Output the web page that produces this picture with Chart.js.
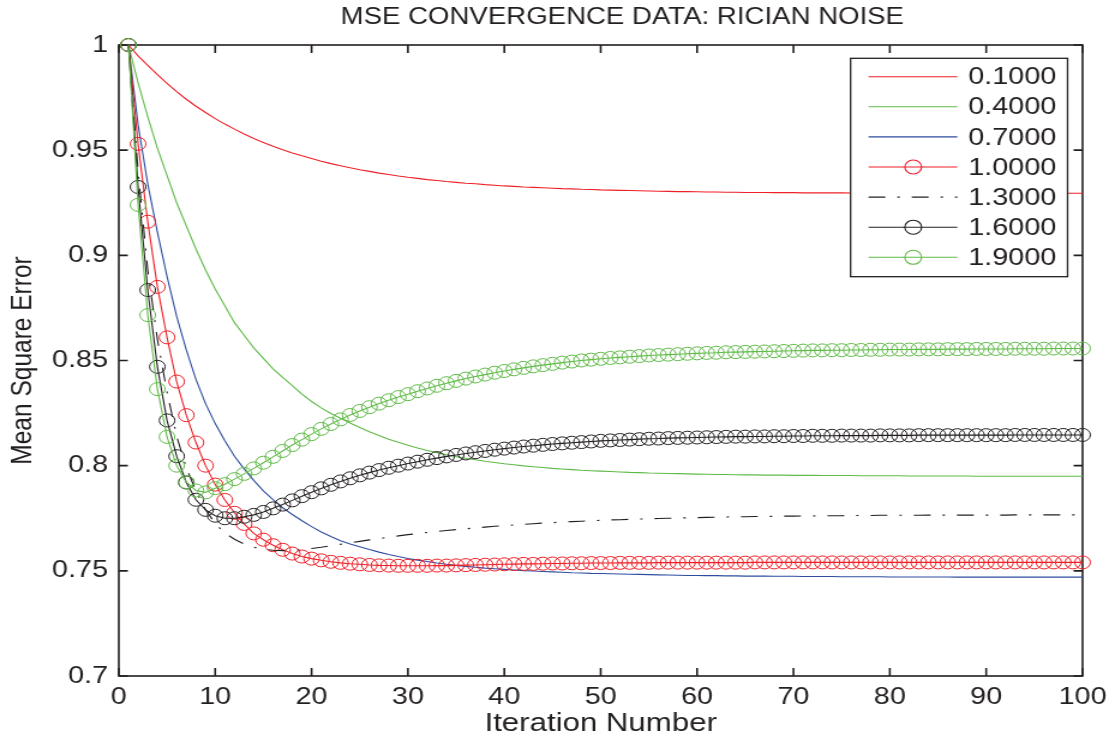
<!DOCTYPE html>
<html><head><meta charset="utf-8">
<script src="https://cdn.jsdelivr.net/npm/chart.js@4.4.1/dist/chart.umd.min.js"></script>
<style>
html,body{margin:0;padding:0;background:#fff;overflow:hidden;width:1115px;height:742px;}
#wrap{position:absolute;left:0;top:0;width:929px;height:742px;transform:scaleX(1.2002);transform-origin:0 0;}
canvas{display:block;width:929px;height:742px;}
</style></head><body>
<div id="wrap"><canvas id="c" width="929" height="742" style="width:929px;height:742px"></canvas></div>
<script>
const chartTitle = 'MSE CONVERGENCE DATA: RICIAN NOISE';
const xAxisTitle = 'Iteration Number';
const yAxisTitle = 'Mean Square Error';
const xTickLabels = ['0','10','20','30','40','50','60','70','80','90','100'];
const yTickLabels = ['0.7','0.75','0.8','0.85','0.9','0.95','1'];
const seriesNames = ['0.1000','0.4000','0.7000','1.0000','1.3000','1.6000','1.9000'];

const iterations = [1,2,3,4,5,6,7,8,9,10,11,12,13,14,15,16,17,18,19,20,
21,22,23,24,25,26,27,28,29,30,31,32,33,34,35,36,37,38,39,40,
41,42,43,44,45,46,47,48,49,50,51,52,53,54,55,56,57,58,59,60,
61,62,63,64,65,66,67,68,69,70,71,72,73,74,75,76,77,78,79,80,
81,82,83,84,85,86,87,88,89,90,91,92,93,94,95,96,97,98,99,100];

const mse01 = [1.0000,0.9948,0.9903,0.9859,0.9817,0.9778,0.9742,0.9709,0.9679,0.9650,
0.9624,0.9600,0.9577,0.9556,0.9537,0.9519,0.9502,0.9487,0.9473,0.9460,
0.9447,0.9436,0.9426,0.9416,0.9407,0.9399,0.9391,0.9384,0.9377,0.9371,
0.9366,0.9360,0.9356,0.9351,0.9347,0.9343,0.9340,0.9336,0.9333,0.9330,
0.9328,0.9325,0.9323,0.9321,0.9319,0.9317,0.9316,0.9314,0.9313,0.9311,
0.9310,0.9309,0.9308,0.9307,0.9306,0.9305,0.9304,0.9303,0.9303,0.9302,
0.9301,0.9301,0.9300,0.9300,0.9299,0.9299,0.9299,0.9298,0.9298,0.9298,
0.9297,0.9297,0.9297,0.9297,0.9297,0.9296,0.9296,0.9296,0.9296,0.9296,
0.9296,0.9296,0.9296,0.9296,0.9296,0.9295,0.9295,0.9295,0.9295,0.9295,
0.9295,0.9295,0.9295,0.9295,0.9295,0.9295,0.9295,0.9295,0.9295,0.9295];

const mse04 = [1.0000,0.9820,0.9660,0.9510,0.9380,0.9250,0.9140,0.9030,0.8930,0.8840,
0.8760,0.8680,0.8620,0.8560,0.8510,0.8460,0.8420,0.8380,0.8340,0.8305,
0.8275,0.8248,0.8225,0.8203,0.8181,0.8161,0.8143,0.8126,0.8111,0.8097,
0.8084,0.8072,0.8062,0.8052,0.8043,0.8035,0.8028,0.8021,0.8015,0.8009,
0.8004,0.7999,0.7995,0.7991,0.7987,0.7984,0.7981,0.7978,0.7976,0.7974,
0.7972,0.7970,0.7968,0.7967,0.7965,0.7964,0.7963,0.7962,0.7961,0.7960,
0.7959,0.7958,0.7958,0.7957,0.7956,0.7956,0.7955,0.7955,0.7955,0.7954,
0.7954,0.7954,0.7953,0.7953,0.7953,0.7953,0.7952,0.7952,0.7952,0.7952,
0.7952,0.7951,0.7951,0.7951,0.7951,0.7951,0.7951,0.7951,0.7950,0.7950,
0.7950,0.7950,0.7950,0.7950,0.7950,0.7950,0.7950,0.7950,0.7950,0.7950];

const mse07 = [1.0000,0.9620,0.9340,0.9110,0.8900,0.8710,0.8550,0.8410,0.8295,0.8200,
0.8118,0.8045,0.7985,0.7930,0.7880,0.7838,0.7800,0.7768,0.7738,0.7710,
0.7685,0.7663,0.7643,0.7628,0.7615,0.7601,0.7589,0.7578,0.7568,0.7559,
0.7551,0.7544,0.7537,0.7531,0.7526,0.7521,0.7517,0.7513,0.7510,0.7507,
0.7504,0.7501,0.7499,0.7497,0.7495,0.7493,0.7491,0.7490,0.7488,0.7487,
0.7486,0.7485,0.7484,0.7483,0.7482,0.7481,0.7480,0.7479,0.7478,0.7478,
0.7477,0.7477,0.7476,0.7476,0.7475,0.7475,0.7475,0.7474,0.7474,0.7474,
0.7473,0.7473,0.7473,0.7473,0.7472,0.7472,0.7472,0.7472,0.7472,0.7471,
0.7471,0.7471,0.7471,0.7471,0.7471,0.7471,0.7470,0.7470,0.7470,0.7470,
0.7470,0.7470,0.7470,0.7470,0.7470,0.7470,0.7470,0.7470,0.7470,0.7470];

const mse10 = [1.0000,0.9530,0.9160,0.8850,0.8610,0.8400,0.8240,0.8110,0.8000,0.7910,
0.7837,0.7776,0.7723,0.7678,0.7648,0.7622,0.7600,0.7582,0.7568,0.7558,
0.7550,0.7543,0.7538,0.7534,0.7531,0.7528,0.7526,0.7525,0.7524,0.7524,
0.7524,0.7524,0.7525,0.7525,0.7526,0.7527,0.7528,0.7529,0.7530,0.7531,
0.7532,0.7533,0.7533,0.7534,0.7535,0.7535,0.7536,0.7536,0.7537,0.7537,
0.7537,0.7538,0.7538,0.7538,0.7538,0.7539,0.7539,0.7539,0.7539,0.7539,
0.7539,0.7539,0.7539,0.7539,0.7539,0.7540,0.7540,0.7540,0.7540,0.7540,
0.7540,0.7540,0.7540,0.7540,0.7540,0.7540,0.7540,0.7540,0.7540,0.7540,
0.7540,0.7540,0.7540,0.7540,0.7540,0.7540,0.7540,0.7540,0.7540,0.7540,
0.7540,0.7540,0.7540,0.7540,0.7540,0.7540,0.7540,0.7540,0.7540,0.7540];

const mse13 = [1.0000,0.9400,0.8930,0.8600,0.8350,0.8140,0.7990,0.7880,0.7790,0.7725,
0.7680,0.7650,0.7627,0.7612,0.7603,0.7598,0.7596,0.7597,0.7601,0.7606,
0.7612,0.7619,0.7626,0.7633,0.7640,0.7647,0.7653,0.7660,0.7666,0.7672,
0.7677,0.7682,0.7687,0.7692,0.7696,0.7700,0.7704,0.7708,0.7712,0.7715,
0.7718,0.7721,0.7724,0.7727,0.7729,0.7732,0.7734,0.7736,0.7738,0.7740,
0.7742,0.7743,0.7745,0.7746,0.7747,0.7749,0.7750,0.7751,0.7752,0.7753,
0.7754,0.7755,0.7756,0.7757,0.7757,0.7758,0.7759,0.7759,0.7760,0.7760,
0.7761,0.7761,0.7762,0.7762,0.7762,0.7763,0.7763,0.7763,0.7764,0.7764,
0.7764,0.7764,0.7764,0.7765,0.7765,0.7765,0.7765,0.7765,0.7765,0.7765,
0.7765,0.7765,0.7766,0.7766,0.7766,0.7766,0.7766,0.7766,0.7766,0.7766];

const mse16 = [1.0000,0.9325,0.8835,0.8470,0.8215,0.8045,0.7920,0.7838,0.7790,0.7762,
0.7750,0.7750,0.7757,0.7766,0.7780,0.7797,0.7815,0.7835,0.7855,0.7874,
0.7892,0.7909,0.7925,0.7940,0.7954,0.7967,0.7979,0.7990,0.8000,0.8010,
0.8019,0.8028,0.8036,0.8044,0.8051,0.8058,0.8064,0.8070,0.8076,0.8081,
0.8086,0.8091,0.8095,0.8099,0.8103,0.8106,0.8109,0.8112,0.8115,0.8118,
0.8120,0.8122,0.8124,0.8126,0.8128,0.8129,0.8131,0.8132,0.8133,0.8134,
0.8135,0.8136,0.8137,0.8138,0.8138,0.8139,0.8139,0.8140,0.8140,0.8141,
0.8141,0.8142,0.8142,0.8142,0.8143,0.8143,0.8143,0.8143,0.8144,0.8144,
0.8144,0.8144,0.8145,0.8145,0.8145,0.8145,0.8145,0.8145,0.8145,0.8145,
0.8145,0.8145,0.8146,0.8146,0.8146,0.8146,0.8146,0.8146,0.8146,0.8146];

const mse19 = [1.0000,0.9240,0.8716,0.8364,0.8137,0.8000,0.7922,0.7882,0.7873,0.7893,
0.7912,0.7936,0.7961,0.7987,0.8014,0.8042,0.8070,0.8098,0.8124,0.8150,
0.8175,0.8198,0.8220,0.8241,0.8260,0.8278,0.8295,0.8311,0.8326,0.8340,
0.8354,0.8367,0.8380,0.8392,0.8403,0.8414,0.8424,0.8433,0.8442,0.8450,
0.8458,0.8465,0.8472,0.8478,0.8484,0.8490,0.8495,0.8500,0.8504,0.8508,
0.8512,0.8515,0.8518,0.8521,0.8524,0.8526,0.8528,0.8530,0.8532,0.8534,
0.8536,0.8537,0.8539,0.8540,0.8541,0.8542,0.8543,0.8544,0.8545,0.8546,
0.8547,0.8548,0.8548,0.8549,0.8549,0.8550,0.8550,0.8551,0.8551,0.8552,
0.8552,0.8552,0.8553,0.8553,0.8553,0.8554,0.8554,0.8554,0.8555,0.8555,
0.8555,0.8555,0.8556,0.8556,0.8556,0.8556,0.8557,0.8557,0.8557,0.8557];

const RED = '#ee1f26', GREEN = '#5fba47', BLUE = '#2e4d9f', BLACK = '#231f20';
const TEXT = '#231f20', AXIS = '#231f20';
const FONT = '"Liberation Sans", Arial, Helvetica, sans-serif';

function makeSeries(label, values, color, marker, dash, idx) {
  return {
    label: label,
    data: values.map((v, i) => ({x: iterations[i], y: v})),
    borderColor: color,
    backgroundColor: color,
    borderWidth: 1.1,
    borderDash: dash || [],
    pointRadius: marker ? 6.5 : 0,
    pointHoverRadius: marker ? 6.5 : 0,
    pointStyle: 'circle',
    pointBorderColor: color,
    pointBackgroundColor: 'rgba(0,0,0,0)',
    pointBorderWidth: 1,
    tension: 0,
    fill: false,
    clip: false,
    order: 7 - idx
  };
}

const datasets = [
  makeSeries(seriesNames[0], mse01, RED, false, null, 0),
  makeSeries(seriesNames[1], mse04, GREEN, false, null, 1),
  makeSeries(seriesNames[2], mse07, BLUE, false, null, 2),
  makeSeries(seriesNames[3], mse10, RED, true, null, 3),
  makeSeries(seriesNames[4], mse13, BLACK, false, [14, 10, 2, 10], 4),
  makeSeries(seriesNames[5], mse16, BLACK, true, null, 5),
  makeSeries(seriesNames[6], mse19, GREEN, true, null, 6)
];

const frameTicks = {
  id: 'frameTicks',
  beforeDatasetsDraw(chart) {
    const {ctx, chartArea: a, scales: {x, y}} = chart;
    ctx.save();
    ctx.strokeStyle = AXIS;
    ctx.lineWidth = 1.6;
    ctx.beginPath();
    x.ticks.forEach((t, i) => {
      const px = x.getPixelForTick(i);
      ctx.moveTo(px, a.bottom); ctx.lineTo(px, a.bottom - 8);
      ctx.moveTo(px, a.top); ctx.lineTo(px, a.top + 8);
    });
    y.ticks.forEach((t, i) => {
      const py = y.getPixelForTick(i);
      ctx.moveTo(a.left, py); ctx.lineTo(a.left + 7.5, py);
      ctx.moveTo(a.right, py); ctx.lineTo(a.right - 7.5, py);
    });
    ctx.stroke();
    ctx.strokeRect(a.left, a.top, a.right - a.left, a.bottom - a.top);
    ctx.restore();
  }
};

const legendBox = {
  id: 'legendBox',
  afterDraw(chart) {
    const {ctx, chartArea: a} = chart;
    const right = a.right - 12.5, left = right - 180.8, top = a.top + 13.3, h = 218.4;
    ctx.save();
    ctx.fillStyle = '#ffffff';
    ctx.fillRect(left, top, right - left, h);
    ctx.strokeStyle = AXIS;
    ctx.lineWidth = 1.3;
    ctx.strokeRect(left, top, right - left, h);
    chart.data.datasets.forEach((ds, i) => {
      const yy = top + 18.4 + i * 30.1;
      ctx.strokeStyle = ds.borderColor;
      ctx.lineWidth = ds.borderWidth;
      ctx.setLineDash(ds.borderDash || []);
      ctx.beginPath();
      ctx.moveTo(left + 15, yy);
      ctx.lineTo(left + 89, yy);
      ctx.stroke();
      ctx.setLineDash([]);
      if (ds.pointRadius > 0) {
        ctx.beginPath();
        ctx.arc(left + 52.2, yy, 7, 0, Math.PI * 2);
        ctx.stroke();
      }
      ctx.fillStyle = TEXT;
      ctx.font = '24px ' + FONT;
      ctx.textAlign = 'left';
      ctx.textBaseline = 'middle';
      ctx.fillText(ds.label, left + 98, yy + 1);
    });
    ctx.restore();
  }
};

const titleText = {
  id: 'titleText',
  afterDraw(chart) {
    const {ctx, chartArea: a} = chart;
    ctx.save();
    ctx.fillStyle = TEXT;
    ctx.font = '23px ' + FONT;
    ctx.textAlign = 'center';
    ctx.textBaseline = 'middle';
    ctx.fillText(chartTitle, (a.left + a.right) / 2 + 18, 18);
    ctx.restore();
  }
};

new Chart(document.getElementById('c'), {
  type: 'line',
  data: {datasets: datasets},
  options: {
    responsive: false,
    animation: false,
    devicePixelRatio: 1,
    layout: {padding: {top: 45, right: 24, left: 0, bottom: 0}},
    plugins: {legend: {display: false}, title: {display: false}, tooltip: {enabled: false}},
    events: [],
    scales: {
      x: {
        type: 'linear', min: 0, max: 100,
        grid: {display: false, drawTicks: false, tickLength: 0},
        border: {display: false},
        ticks: {stepSize: 10, padding: 7, color: TEXT, font: {family: FONT, size: 24},
          maxRotation: 0, autoSkip: false, callback: (v, i) => xTickLabels[i]},
        title: {display: true, text: xAxisTitle, color: TEXT, font: {family: FONT, size: 26},
          padding: {top: 0, bottom: 3}},
        afterFit(s) { s.height = 66; }
      },
      y: {
        type: 'linear', min: 0.7, max: 1,
        grid: {display: false, drawTicks: false, tickLength: 0},
        border: {display: false},
        ticks: {stepSize: 0.05, padding: 9, color: TEXT, font: {family: FONT, size: 24},
          autoSkip: false, callback: (v, i) => yTickLabels[i]},
        title: {display: true, text: yAxisTitle, color: TEXT, font: {family: FONT, size: 24.5},
          padding: {top: 5, bottom: 0}},
        afterFit(s) { s.width = 99; }
      }
    }
  },
  plugins: [frameTicks, legendBox, titleText]
});
</script>
</body></html>
